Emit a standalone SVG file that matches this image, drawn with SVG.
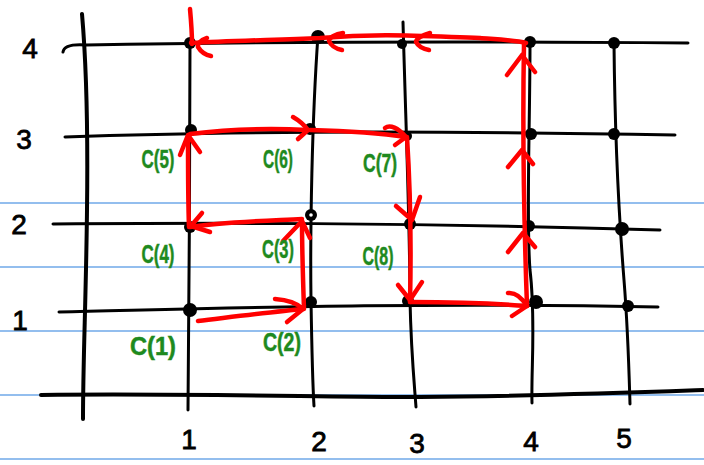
<svg xmlns="http://www.w3.org/2000/svg" width="704" height="465" viewBox="0 0 704 465">
<defs>
<style>
.rule{stroke:#6fa8e8;stroke-width:1.5;fill:none}
.ax{stroke:#000;stroke-width:4;fill:none;stroke-linecap:round}
.gl{stroke:#000;stroke-width:3;fill:none;stroke-linecap:round}
.dot{fill:#000}
.num{font-family:"Liberation Sans",Arial,sans-serif;font-size:28px;fill:#000;stroke:#000;stroke-width:0.8;text-anchor:middle}
.lab{font-family:"Liberation Sans",Arial,sans-serif;font-size:25px;font-weight:bold;fill:#1e8a1e;stroke:#1e8a1e;stroke-width:0.5;text-anchor:middle}
.r{stroke:#ff0000;stroke-width:4.5;fill:none;stroke-linecap:round;stroke-linejoin:round}
</style>
</defs>
<rect width="704" height="465" fill="#fff"/>
<g id="ruled-lines">
<line class="rule" x1="0" y1="203" x2="704" y2="203"/>
<line class="rule" x1="0" y1="267" x2="704" y2="267"/>
<line class="rule" x1="0" y1="331" x2="704" y2="331"/>
<line class="rule" x1="0" y1="395" x2="704" y2="395"/>
<line class="rule" x1="0" y1="459" x2="704" y2="459"/>
</g>
<g id="grid">
<path class="ax" d="M82,14 C86,60 88,130 87,210 C86,300 83,360 83,419"/>
<path class="ax" d="M41,395 C200,393 350,398 420,397 C540,396 620,393 703,390"/>
<path class="gl" d="M63,52 C64,46 72,44 86,45 C250,42 450,41 688,43"/>
<path class="gl" d="M65,137 C200,132 400,130 675,135"/>
<path class="gl" d="M53,224 C200,223 400,222 660,230"/>
<path class="gl" d="M59,312 C200,309 400,302 658,307"/>
<path class="gl" d="M190,42 C190,150 189,300 188,410"/>
<path class="gl" d="M318,35 C312,120 310,230 311,300 C312,360 313,390 314,406"/>
<path class="gl" d="M403,22 C406,130 410,230 410,300 C411,350 414,380 416,407"/>
<path class="gl" d="M530,42 C530,130 526,220 530,270 C536,320 531,370 532,403"/>
<path class="gl" d="M614,43 C615,150 620,230 624,280 C628,330 629,370 630,404"/>
</g>
<g id="axis-labels">
<text class="num" x="30" y="58">4</text>
<text class="num" x="24" y="149">3</text>
<text class="num" x="19" y="234">2</text>
<text class="num" x="20" y="330">1</text>
<text class="num" x="189" y="449">1</text>
<text class="num" x="319" y="451">2</text>
<text class="num" x="417" y="453">3</text>
<text class="num" x="531" y="451">4</text>
<text class="num" x="624" y="448">5</text>
</g>
<g id="points">
<g id="p11"><circle class="dot" cx="190" cy="310" r="7"/></g>
<g id="p21"><circle class="dot" cx="311" cy="302" r="6"/></g>
<g id="p31"><circle class="dot" cx="408" cy="301" r="6"/></g>
<g id="p41"><circle class="dot" cx="536" cy="302" r="7"/></g>
<g id="p51"><circle class="dot" cx="628" cy="306" r="6"/></g>
<g id="p12"><circle class="dot" cx="190" cy="227" r="6"/></g>
<g id="p22"><circle class="dot" cx="311" cy="215" r="6"/><circle cx="311" cy="215" r="1.8" fill="#fff"/></g>
<g id="p32"><circle class="dot" cx="410" cy="224" r="6"/></g>
<g id="p42"><circle class="dot" cx="529" cy="226" r="6"/></g>
<g id="p52"><circle class="dot" cx="622" cy="229" r="7"/></g>
<g id="p13"><circle class="dot" cx="191" cy="130" r="6"/></g>
<g id="p23"><circle class="dot" cx="310" cy="129" r="6"/></g>
<g id="p33"><circle class="dot" cx="407" cy="136" r="5"/></g>
<g id="p43"><circle class="dot" cx="531" cy="134" r="6"/></g>
<g id="p53"><circle class="dot" cx="614" cy="134" r="6"/></g>
<g id="p14"><circle class="dot" cx="190" cy="43" r="6"/></g>
<g id="p24"><circle class="dot" cx="318" cy="37" r="7"/></g>
<g id="p34"><circle class="dot" cx="402" cy="44" r="5"/></g>
<g id="p44"><circle class="dot" cx="530" cy="42" r="6"/></g>
<g id="p54"><circle class="dot" cx="614" cy="43" r="6"/></g>
</g>
<g id="connectors">
<path class="r" d="M198,321 C240,316 280,311 303,309"/>
<path class="r" d="M275,299 C290,300 298,304 303,309 L287,322"/>
<path class="r" d="M304,309 C303,280 302,250 302,221"/>
<path class="r" d="M283,241 L302,221 L310,238"/>
<path class="r" d="M302,219 C260,221 220,222 190,227"/>
<path class="r" d="M202,213 L191,226 L210,232"/>
<path class="r" d="M189,227 C188,200 188,170 188,136"/>
<path class="r" d="M180,155 L188,135 L200,152"/>
<path class="r" d="M190,134 C230,129 270,128 308,130"/>
<path class="r" d="M293,117 C300,121 305,126 308,130 L298,139"/>
<path class="r" d="M310,130 C350,131 380,133 406,137"/>
<path class="r" d="M385,128 C390,124 398,128 406,137 L395,145"/>
<path class="r" d="M407,137 C411,200 411,260 410,302"/>
<path class="r" d="M396,206 L412,220 L420,197"/>
<path class="r" d="M398,285 L410,300 L422,282"/>
<path class="r" d="M410,302 C450,302 490,303 527,306"/>
<path class="r" d="M508,293 C516,292 522,298 527,306 L512,316"/>
<path class="r" d="M527,306 C525,250 522,150 524,44"/>
<path class="r" d="M508,252 L523,233 L535,247"/>
<path class="r" d="M508,167 L522,150 L533,164"/>
<path class="r" d="M507,75 L522,55 L535,72"/>
<path class="r" d="M526,43 C515,40 490,39 480,38 C420,36 380,33 320,38 C270,40 230,41 191,43"/>
<path class="r" d="M430,33 C422,35 416,39 416,42 C418,46 424,49 429,50"/>
<path class="r" d="M343,33 C335,34 329,38 329,41 C331,46 337,49 342,50"/>
<path class="r" d="M207,38 C201,40 197,44 198,47 C201,52 206,55 211,56"/>
<path class="r" d="M190,9 C191,20 192,32 192,44"/>
</g>
<g id="labels">
<g id="c1"><text class="lab" x="153" y="355" font-size="34" textLength="46" lengthAdjust="spacingAndGlyphs">C(1)</text></g>
<g id="c2"><text class="lab" x="282" y="351" textLength="38" lengthAdjust="spacingAndGlyphs">C(2)</text></g>
<g id="c3"><text class="lab" x="278" y="258" textLength="32" lengthAdjust="spacingAndGlyphs">C(3)</text></g>
<g id="c4"><text class="lab" x="158" y="263" textLength="33" lengthAdjust="spacingAndGlyphs">C(4)</text></g>
<g id="c5"><text class="lab" x="158" y="168" textLength="33" lengthAdjust="spacingAndGlyphs">C(5)</text></g>
<g id="c6"><text class="lab" x="278" y="168" textLength="30" lengthAdjust="spacingAndGlyphs">C(6)</text></g>
<g id="c7"><text class="lab" x="380" y="172" textLength="34" lengthAdjust="spacingAndGlyphs">C(7)</text></g>
<g id="c8"><text class="lab" x="378" y="265" textLength="31" lengthAdjust="spacingAndGlyphs">C(8)</text></g>
</g>
</svg>
